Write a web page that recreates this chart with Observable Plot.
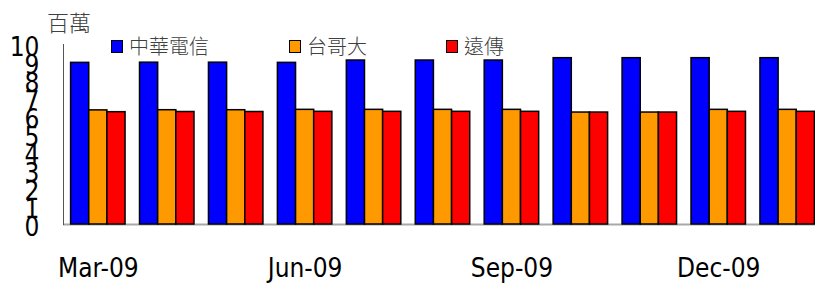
<!DOCTYPE html>
<html>
<head>
<meta charset="utf-8">
<script src="https://cdn.jsdelivr.net/npm/d3@7"></script>
<script src="https://cdn.jsdelivr.net/npm/@observablehq/plot@0.6"></script>
<style>
  html, body { margin: 0; padding: 0; background: #fff; }
  #wrap { position: relative; width: 815px; height: 283px; overflow: hidden; }
  #unit { position: absolute; left: 47px; top: 10px; font: 300 22px "Noto Sans CJK TC", sans-serif; color: #404040; line-height: 1; }
  .lg { position: absolute; top: 36px; font: 300 20px "Noto Sans CJK TC", sans-serif; color: #404040; line-height: 1; display: flex; align-items: center; white-space: nowrap; }
  .sw { width: 10px; height: 11px; border: 1.5px solid #000; margin-right: 6px; }
  svg text { font-family: "Liberation Sans Narrow", "DejaVu Sans Condensed", "DejaVu Sans", sans-serif; font-stretch: condensed; }
</style>
</head>
<body>
<div id="wrap"></div>
<script>
const months = ["Mar-09","Apr-09","May-09","Jun-09","Jul-09","Aug-09","Sep-09","Oct-09","Nov-09","Dec-09","Jan-10"];
const series = ["中華電信","台哥大","遠傳"];
const colors = ["#0000FF","#FF9900","#FF0000"];
const cht = [8.98, 8.99, 8.99, 8.98, 9.11, 9.11, 9.11, 9.24, 9.24, 9.24, 9.24];
const twm = [6.34, 6.35, 6.35, 6.37, 6.37, 6.37, 6.37, 6.22, 6.22, 6.37, 6.37];
const fet = [6.24, 6.25, 6.25, 6.26, 6.26, 6.26, 6.26, 6.22, 6.22, 6.26, 6.26];
const xTicks = ["Mar-09","Jun-09","Sep-09","Dec-09"];
const yTicks = [0,1,2,3,4,5,6,7,8,9,10];
const unitLabel = "百萬";

const vals = [cht, twm, fet];
const rows = [];
series.forEach((s, i) => months.forEach((m, j) => rows.push({month: m, series: s, value: vals[i][j]})));

// band geometry for splitting each month band in three
const x0 = 63, x1 = 822, padIn = 0.21, padOut = 0.11;
const step = (x1 - x0) / (months.length - padIn + 2 * padOut);
const bw = step * (1 - padIn);
const third = bw / 3;

const barMarks = series.map((s, i) => Plot.barY(rows.filter(d => d.series === s), {
  x: "month", y: "value", fill: colors[i], stroke: "#000", strokeWidth: 1.5,
  insetLeft: third * i, insetRight: third * (2 - i)
}));

const chart = Plot.plot({
  width: 815, height: 283,
  marginLeft: 63, marginRight: 0, marginTop: 44, marginBottom: 59,
  style: {background: "#fff", color: "#000", overflow: "visible"},
  x: {type: "band", domain: months, range: [x0, x1], paddingInner: padIn, paddingOuter: padOut, round: false, label: null},
  y: {domain: [0, 10], label: null},
  marks: [
    Plot.ruleY([0], {stroke: "#a8a8a8", strokeWidth: 2}),
    ...barMarks,
    Plot.frame({anchor: "left", stroke: "#555", strokeWidth: 1}),
    Plot.axisY({ticks: yTicks, tickSize: 0, tickPadding: 24, fontSize: 26, dy: 3, tickFormat: d => String(d), label: null}),
    Plot.axisX({ticks: xTicks, tickSize: 0, tickPadding: 34, fontSize: 26, label: null})
  ]
});

const wrap = document.getElementById("wrap");
wrap.appendChild(chart);
const u = document.createElement("div");
u.id = "unit"; u.textContent = unitLabel; wrap.appendChild(u);
const lgX = [111, 289, 446];
series.forEach((s, i) => {
  const d = document.createElement("div");
  d.className = "lg"; d.style.left = lgX[i] + "px";
  const sw = document.createElement("span"); sw.className = "sw"; sw.style.background = colors[i];
  d.appendChild(sw); d.appendChild(document.createTextNode(s));
  wrap.appendChild(d);
});
</script>
</body>
</html>
